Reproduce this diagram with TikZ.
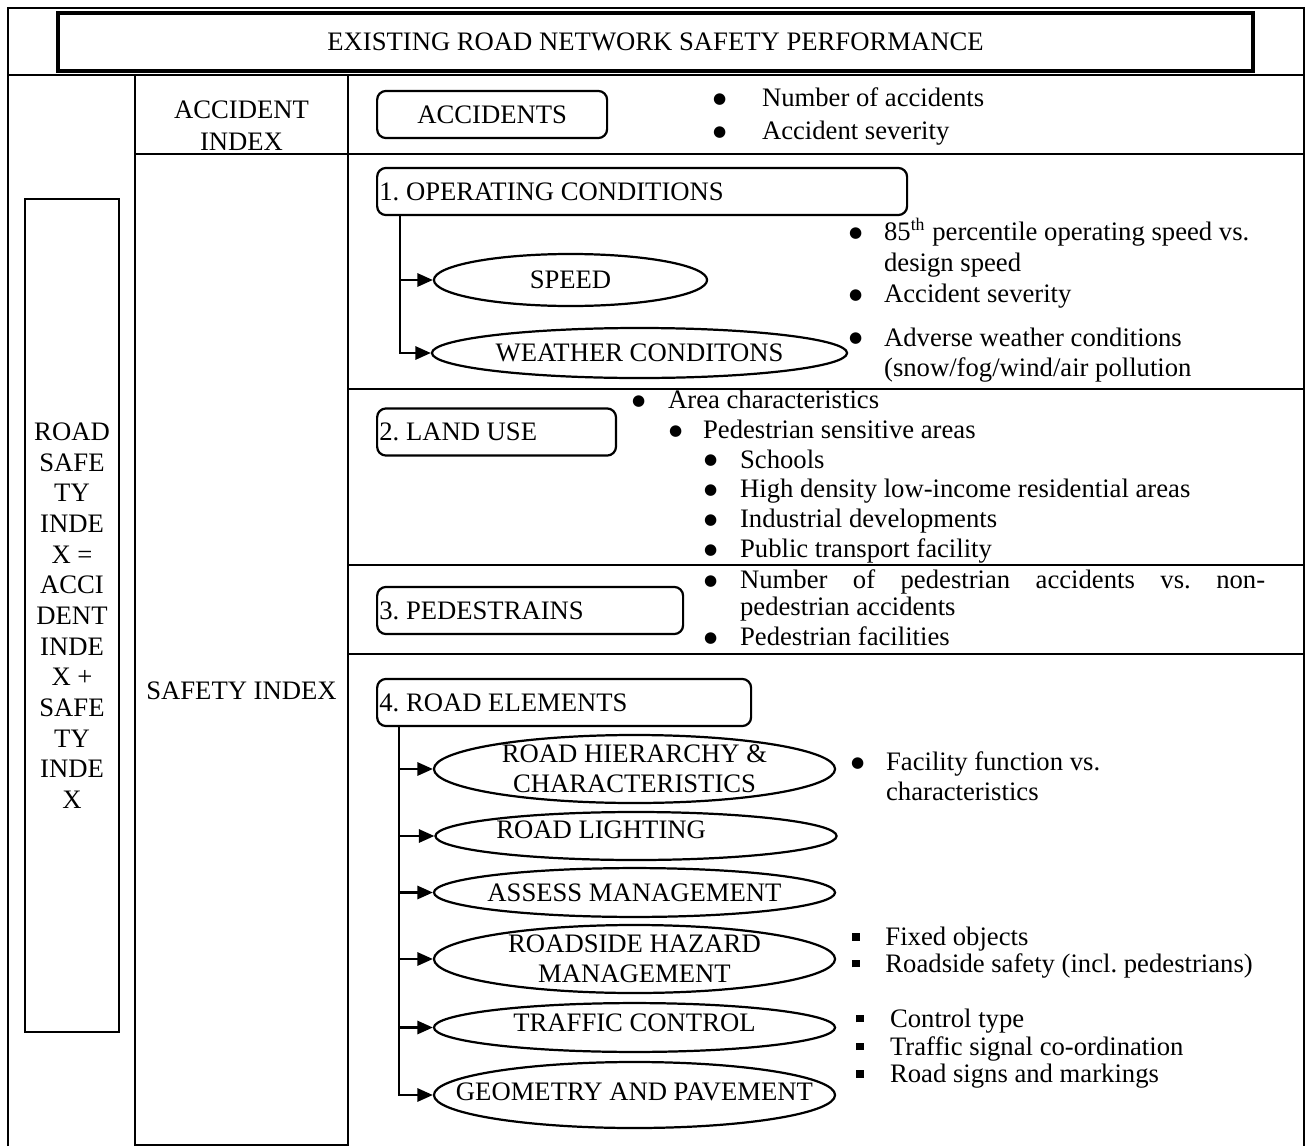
\documentclass[tikz,border=0pt]{standalone}
\usepackage{fontspec}
\setmainfont{Liberation Serif}
\newfontfamily\symfont{DejaVu Sans}
\usepackage{tikz}
\usetikzlibrary{shapes,arrows.meta}

\newcommand{\dotb}{\raisebox{1.4pt}{\symfont\fontsize{6.8}{6.8}\selectfont ●}}
\newcommand{\bul}[1]{\strut\makebox[#1][l]{\dotb}}
\newcommand{\sqb}[1]{\strut\makebox[#1][l]{\raisebox{2.2pt}{\rule{3.4pt}{3.4pt}}}}
\newcommand{\ind}[1]{\strut\hspace*{#1}}

\begin{document}
\begin{tikzpicture}[x=0.45pt,y=-0.45pt,line width=1pt,
	font=\fontsize{12}{13.5}\selectfont\frenchspacing,
	ttl/.style={draw,line width=1.5pt,minimum width=537.8pt,minimum height=26.1pt,inner sep=0pt},
	rbox/.style={draw,rounded corners=4pt,minimum height=21.2pt,inner sep=1pt,anchor=west},
	oval/.style={ellipse,draw,inner sep=0pt},
	lst/.style={align=left,inner sep=0pt,anchor=west},
	arr/.style={-{Triangle[length=7pt,width=6pt]}}]
	\useasboundingbox (0,0) rectangle (1306,1146);
	%
	\draw (8,1146) -- (8,8) -- (1304,8) -- (1304,1146);
	\draw (8,75) -- (1304,75);
	\draw (135,75) rectangle (348,1145);
	\draw (135,154) -- (1304,154);
	\foreach \y in {389,565,654}
		\draw (348,\y) -- (1304,\y);
	%
	\node[ttl] (title) at (655.5,42) {EXISTING ROAD NETWORK SAFETY PERFORMANCE};
	\node[draw,minimum width=42.3pt,minimum height=374.9pt,inner sep=0pt,align=center,font=\fontsize{12}{13.8}\selectfont] (rsi) at (72,615.5) {ROAD\\SAFE\\TY\\INDE\\X =\\ACCI\\DENT\\INDE\\X +\\SAFE\\TY\\INDE\\X};
	\node[align=center] (aidx) at (241.5,126) {ACCIDENT\\[1pt]INDEX};
	\node (sidx) at (241.5,691) {SAFETY INDEX};
	%
	\node[rbox] (acc) at (376,114.5) {\makebox[101.5pt]{ACCIDENTS}};
	\node[rbox] (opc) at (376,191.5) {\makebox[236.5pt][l]{1. OPERATING CONDITIONS}};
	\node[rbox] (lnd) at (376,432) {\makebox[105.5pt][l]{2. LAND USE}};
	\node[rbox] (ped) at (376,610.5) {\makebox[135.7pt][l]{3. PEDESTRAINS}};
	\node[rbox] (rde) at (376,702.5) {\makebox[166.3pt][l]{4. ROAD ELEMENTS}};
	%
	\node[oval,minimum width=122.9pt,minimum height=23.4pt,label={center:SPEED}] (spd) at (570.5,280) {};
	\node[oval,minimum width=186.8pt,minimum height=22.5pt,label={center:WEATHER CONDITONS}] (wth) at (639.5,353) {};
	\node[oval,minimum width=180.5pt,minimum height=30.6pt,label={[align=center]center:{ROAD HIERARCHY \&\\CHARACTERISTICS}}] (hie) at (634.5,769) {};
	\node[oval,minimum width=180.5pt,minimum height=21.6pt,label={[xshift=-15.7pt,yshift=2.7pt]center:ROAD LIGHTING}] (lgt) at (636,836) {};
	\node[oval,minimum width=180.5pt,minimum height=22pt,label={center:ASSESS MANAGEMENT}] (ass) at (634.5,892.5) {};
	\node[oval,minimum width=180.5pt,minimum height=30.6pt,label={[align=center]center:{ROADSIDE HAZARD\\MANAGEMENT}}] (haz) at (634.5,959) {};
	\node[oval,minimum width=180.5pt,minimum height=22pt,label={[yshift=2pt]center:TRAFFIC CONTROL}] (trf) at (634.5,1027.5) {};
	\node[oval,minimum width=180.5pt,minimum height=29.7pt,label={[yshift=1.3pt]center:GEOMETRY AND PAVEMENT}] (geo) at (634.5,1095) {};
	%
	\draw[arr] ([xshift=10.8pt]opc.south west) |- (spd.west);
	\draw[arr] ([xshift=10.8pt]opc.south west) |- (wth.west);
	\foreach \n in {hie,lgt,ass,haz,trf,geo}
		\draw[arr] ([xshift=10.35pt]rde.south west) |- (\n.west);
	%
	\node[lst] (accl) at (712,117) {\bul{22pt}Number of accidents\\[1.5pt]\bul{22pt}Accident severity};
	\node[lst] (spdl) at (848,265) {\bul{15.75pt}85\textsuperscript{th} percentile operating speed vs.\\[0.5pt]\ind{15.75pt}design speed\\[0.5pt]\bul{15.75pt}Accident severity};
	\node[lst] (wthl) at (848,355) {\bul{15.75pt}Adverse weather conditions\\\ind{15.75pt}(snow/fog/wind/air pollution};
	\node[lst,font=\fontsize{12}{13.4}\selectfont] (lndl) at (631,477) {\bul{16.2pt}Area characteristics\\
		\ind{16.65pt}\bul{15.3pt}Pedestrian sensitive areas\\
		\ind{32.4pt}\bul{16.2pt}Schools\\
		\ind{32.4pt}\bul{16.2pt}High density low-income residential areas\\
		\ind{32.4pt}\bul{16.2pt}Industrial developments\\
		\ind{32.4pt}\bul{16.2pt}Public transport facility};
	\node[lst] (pedl) at (703,611) {\bul{16.2pt}\makebox[236.25pt][s]{Number of pedestrian accidents vs. non-}\\[-1pt]
		\ind{16.2pt}pedestrian accidents\\\bul{16.2pt}Pedestrian facilities};
	\node[lst] (hiel) at (850,779.5) {\bul{15.75pt}Facility function vs.\\\ind{15.75pt}characteristics};
	\node[lst] (hazl) at (851,953) {\sqb{15pt}Fixed objects\\[-1.5pt]\sqb{15pt}Roadside safety (incl. pedestrians)};
	\node[lst] (trfl) at (855,1049) {\sqb{15.3pt}Control type\\[-1pt]\sqb{15.3pt}Traffic signal co-ordination\\[-1pt]\sqb{15.3pt}Road signs and markings};
\end{tikzpicture}
\end{document}
